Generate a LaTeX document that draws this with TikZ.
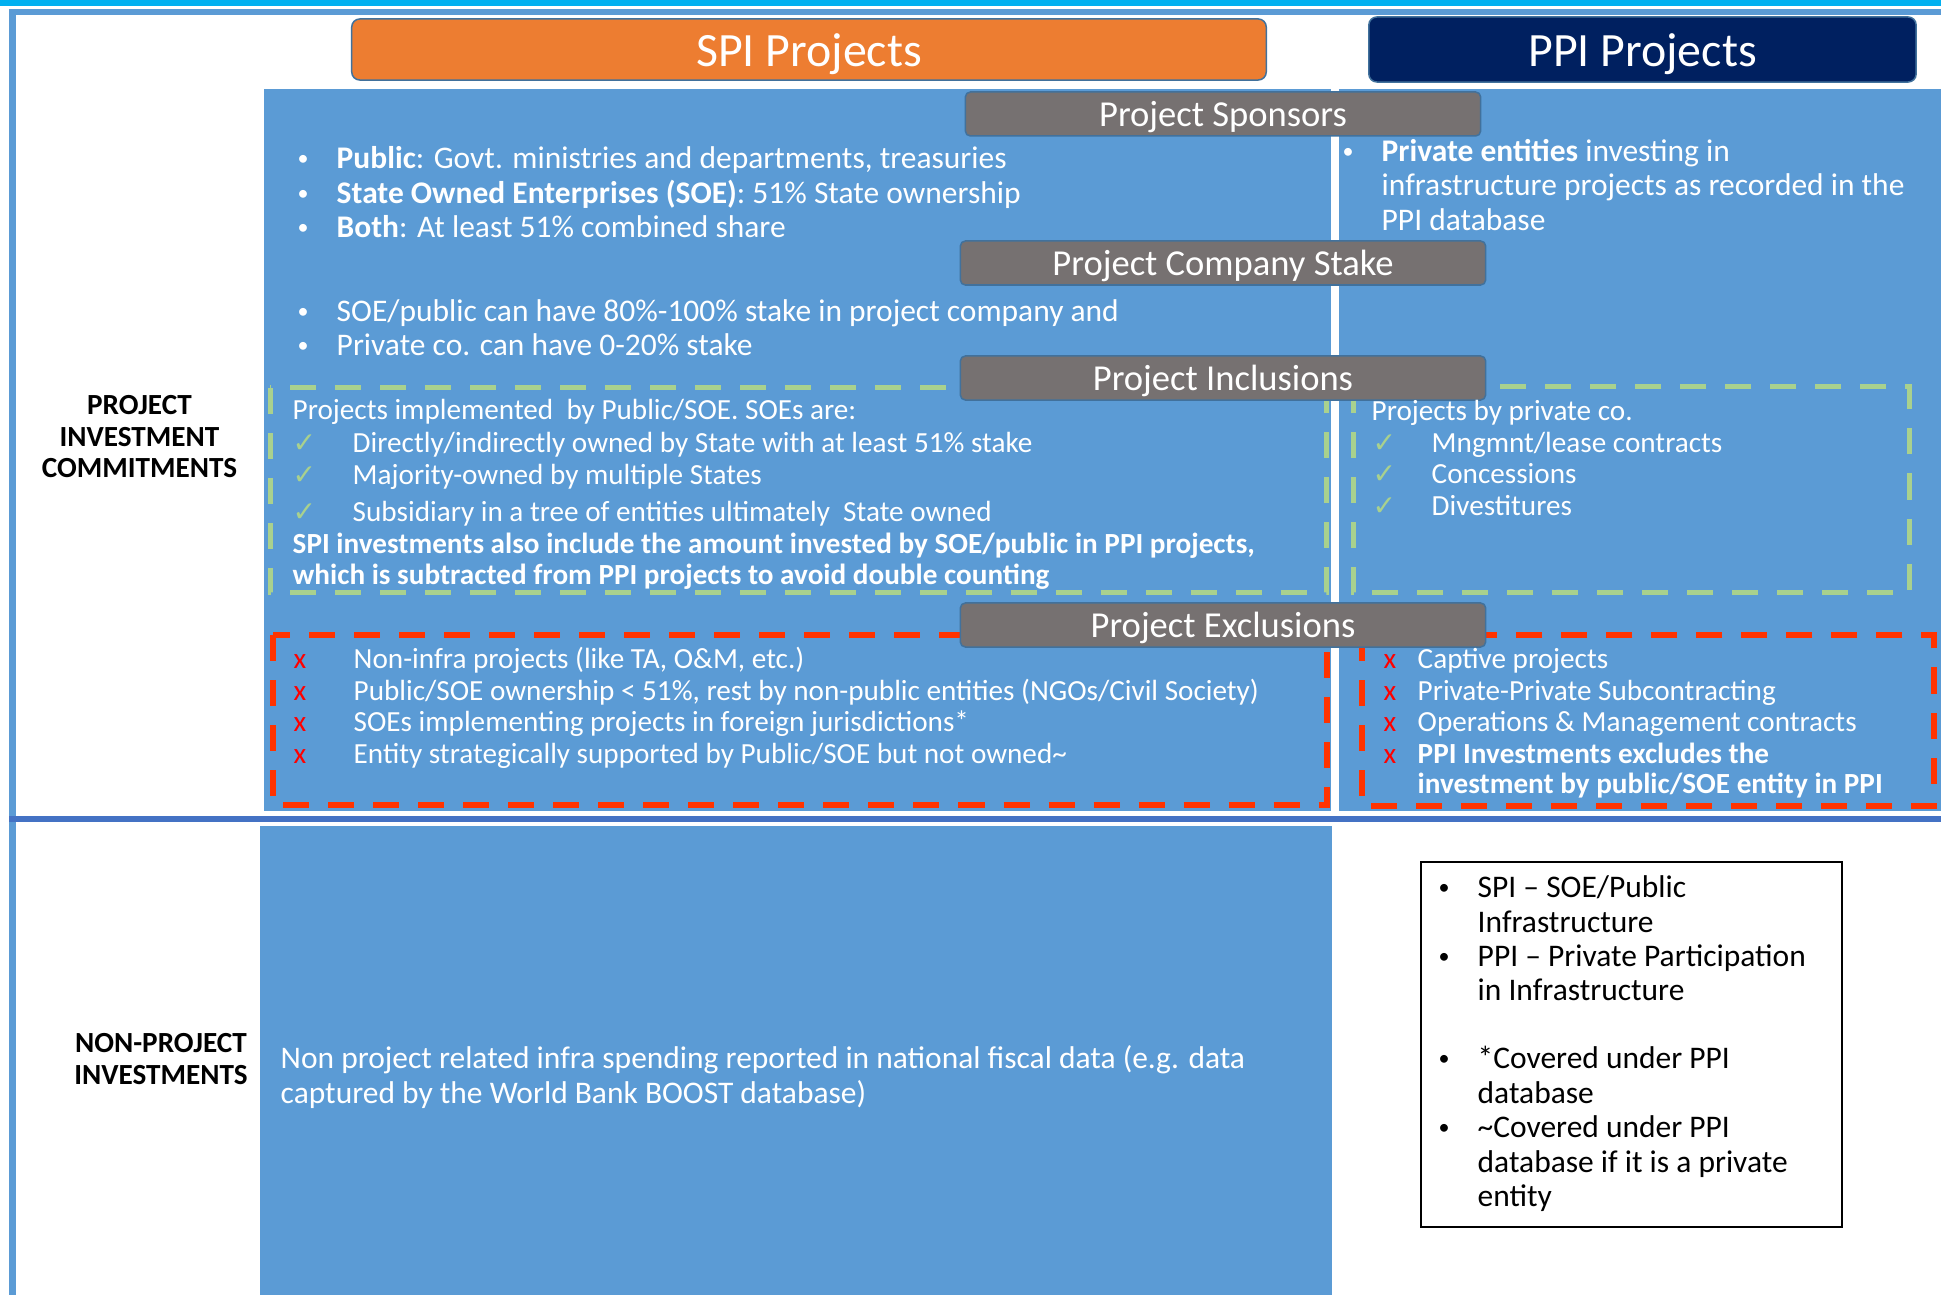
\documentclass[tikz,border=0pt]{standalone}
\usepackage{fontspec}
\setmainfont{Carlito}
\newfontfamily\dejavu{DejaVu Sans}

\definecolor{topcyan}{HTML}{00B0F0}
\definecolor{frameblue}{HTML}{5B9BD5}
\definecolor{panelblue}{HTML}{5B9BD5}
\definecolor{divblue}{HTML}{4472C4}
\definecolor{edgeblue}{HTML}{41719C}
\definecolor{spiorange}{HTML}{ED7D31}
\definecolor{ppinavy}{HTML}{002060}
\definecolor{headgray}{HTML}{767171}
\definecolor{inclgreen}{HTML}{A9D18E}
\definecolor{exclred}{HTML}{FF3300}
\definecolor{xred}{HTML}{FF0000}

\newcommand\txtfont{\fontsize{8.95pt}{10pt}\selectfont}
\newcommand\lstfont{\fontsize{8.3pt}{10pt}\selectfont}
\newcommand\hdfont{\fontsize{10.4pt}{12pt}\selectfont}
\newcommand\ttlfont{\fontsize{13.6pt}{16pt}\selectfont}
\newcommand\lblfont{\fontsize{8.3pt}{10pt}\selectfont\bfseries}
\newcommand\chk{{\dejavu\fontsize{8pt}{8pt}\selectfont\color{inclgreen}✓}}
\newcommand\crs{{\color{xred}x}}
\newcommand\blt{\raisebox{0.035cm}{\scalebox{0.7}{•}}}
\newcommand\lead[2]{\makebox[#1][l]{#2}}

\tikzset{
  txt/.style={anchor=base west,inner sep=0pt,text=white,font=\txtfont},
  lst/.style={txt,font=\lstfont},
  key/.style={txt,text=black},
  lbl/.style={anchor=base,inner sep=0pt,font=\lblfont},
  coltitle/.style={draw=edgeblue,line width=0.015cm,rounded corners=0.08cm,
    text=white,font=\ttlfont,inner sep=0pt,text height=0.48cm,text depth=0.13cm},
  heading/.style={draw=edgeblue,line width=0.015cm,fill=headgray,rounded corners=0.05cm,
    text=white,font=\hdfont,minimum width=5.25cm,minimum height=0.44cm,inner sep=0pt,
    text height=0.34cm,text depth=0.09cm},
  incl/.style={inclgreen,line width=0.05cm,dash pattern=on 0.26cm off 0.19cm},
  excl/.style={exclred,line width=0.055cm,dash pattern=on 0.26cm off 0.19cm},
}

\begin{document}
\begin{tikzpicture}[x=0.01cm,y=-0.01cm]
  \useasboundingbox (0,0) rectangle (1941,1295);
  % top stripe, outer frame, row divider
  \fill[topcyan] (0,0) rectangle (1941,6);
  \draw[frameblue,line width=0.06cm] (12.5,1295) -- (12.5,12) -- (1941,12);
  \fill[panelblue] (264,89) rectangle (1331,811);
  \fill[panelblue] (1339,89) rectangle (1941,811);
  \fill[panelblue] (260,826) rectangle (1332,1295);
  \draw[divblue,line width=0.06cm] (9,819) -- (1941,819);

  % column titles
  \node[coltitle,fill=spiorange,minimum width=9.14cm,minimum height=0.61cm] (spi) at (809,49.5) {SPI Projects};
  \node[coltitle,fill=ppinavy,minimum width=5.47cm,minimum height=0.65cm] (ppi) at (1642.5,49.5) {PPI Projects};

  % inclusion / exclusion frames
  \draw[incl] (270,388) rectangle (1326,593);
  \draw[incl] (1353,387) rectangle (1909,593);
  \draw[excl] (273,635) rectangle (1327,805);
  \draw[excl] (1362,635) rectangle (1934,806);

  % section headings
  \foreach \name/\y/\txt in {stake/263/Project Company Stake,
      inclusions/378/Project Inclusions, exclusions/625/Project Exclusions}
    \node[heading] (\name) at (1223,\y) {\txt};
  \node[heading,minimum width=5.15cm] (sponsors) at (1223,114) {Project Sponsors};

  % sponsors
  \node[txt] (spons1) at (297,169) {\lead{0.39cm}{\blt}\textbf{Public}: Govt. ministries and departments, treasuries};
  \node[txt] (spons2) at (297,204) {\lead{0.39cm}{\blt}\textbf{State Owned Enterprises (SOE)}: 51\% State ownership};
  \node[txt] (spons3) at (297,238) {\lead{0.39cm}{\blt}\textbf{Both}: At least 51\% combined share};
  \node[txt] (spons4) at (1342,162) {\lead{0.39cm}{\blt}\textbf{Private entities} investing in};
  \node[txt] (spons5) at (1381,196) {infrastructure projects as recorded in the};
  \node[txt] (spons6) at (1381,231) {PPI database};

  % company stake
  \node[txt] (stake1) at (297,322) {\lead{0.39cm}{\blt}SOE/public can have 80\%-100\% stake in project company and};
  \node[txt] (stake2) at (297,356) {\lead{0.39cm}{\blt}Private co. can have 0-20\% stake};

  % inclusions
  \node[lst] (incl0) at (292,420) {Projects implemented\ \ by Public/SOE. SOEs are:};
  \node[lst] (incl1) at (292,453) {\lead{0.60cm}{\chk}Directly/indirectly owned by State with at least 51\% stake};
  \node[lst] (incl2) at (292,485) {\lead{0.60cm}{\chk}Majority-owned by multiple States};
  \node[lst] (incl3) at (292,522) {\lead{0.60cm}{\chk}Subsidiary in a tree of entities ultimately\ \ State owned};
  \node[lst,font=\lstfont\bfseries] (incl4) at (292,554) {SPI investments also include the amount invested by SOE/public in PPI projects,};
  \node[lst,font=\lstfont\bfseries] (incl5) at (292,585) {which is subtracted from PPI projects to avoid double counting};
  \node[lst] (incl6) at (1371,421) {Projects by private co.};
  \node[lst] (incl7) at (1372,453) {\lead{0.59cm}{\chk}Mngmnt/lease contracts};
  \node[lst] (incl8) at (1372,484) {\lead{0.59cm}{\chk}Concessions};
  \node[lst] (incl9) at (1372,516) {\lead{0.59cm}{\chk}Divestitures};

  % exclusions
  \node[lst] (excl1) at (293,669) {\lead{0.60cm}{\crs}Non-infra projects (like TA, O\&M, etc.)};
  \node[lst] (excl2) at (293,701) {\lead{0.60cm}{\crs}Public/SOE ownership < 51\%, rest by non-public entities (NGOs/Civil Society)};
  \node[lst] (excl3) at (293,732) {\lead{0.60cm}{\crs}SOEs implementing projects in foreign jurisdictions*};
  \node[lst] (excl4) at (293,764) {\lead{0.60cm}{\crs}Entity strategically supported by Public/SOE but not owned\textasciitilde};
  \node[lst] (excl5) at (1383,669) {\lead{0.34cm}{\crs}Captive projects};
  \node[lst] (excl6) at (1383,701) {\lead{0.34cm}{\crs}Private-Private Subcontracting};
  \node[lst] (excl7) at (1383,732) {\lead{0.34cm}{\crs}Operations \& Management contracts};
  \node[lst] (excl8) at (1383,764) {\lead{0.34cm}{\crs}\textbf{PPI Investments excludes the}};
  \node[lst,font=\lstfont\bfseries] (excl9) at (1417,794) {investment by public/SOE entity in PPI};

  % non-project row
  \node[txt] (nonproj1) at (280,1069) {Non project related infra spending reported in national fiscal data (e.g. data};
  \node[txt] (nonproj2) at (280,1104) {captured by the World Bank BOOST database)};

  % row labels
  \node[lbl] (rowa1) at (139.5,415) {PROJECT};
  \node[lbl] (rowa2) at (139.5,447) {INVESTMENT};
  \node[lbl] (rowa3) at (139.5,478) {COMMITMENTS};
  \node[lbl] (rowb1) at (161,1053) {NON-PROJECT};
  \node[lbl] (rowb2) at (161,1085) {INVESTMENTS};

  % key box
  \node[draw,line width=0.025cm,minimum width=4.21cm,minimum height=3.65cm,inner sep=0pt] (legend) at (1631.5,1044.5) {};
  \node[key] (key1) at (1438,898) {\lead{0.39cm}{\blt}SPI -- SOE/Public};
  \node[key] (key2) at (1477,933) {Infrastructure};
  \node[key] (key3) at (1438,967) {\lead{0.39cm}{\blt}PPI -- Private Participation};
  \node[key] (key4) at (1477,1001) {in Infrastructure};
  \node[key] (key5) at (1438,1069) {\lead{0.39cm}{\blt}*Covered under PPI};
  \node[key] (key6) at (1477,1104) {database};
  \node[key] (key7) at (1438,1138) {\lead{0.39cm}{\blt}\textasciitilde Covered under PPI};
  \node[key] (key8) at (1477,1173) {database if it is a private};
  \node[key] (key9) at (1477,1207) {entity};
\end{tikzpicture}
\end{document}
